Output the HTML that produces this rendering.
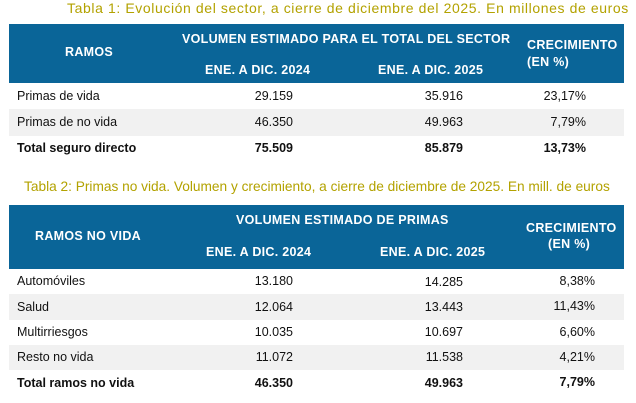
<!DOCTYPE html>
<html><head><meta charset="utf-8"><style>
body{margin:0;width:636px;height:403px;background:#fff;position:relative;overflow:hidden;font-family:"Liberation Sans",sans-serif;}
div{position:absolute;white-space:nowrap;}
.t{color:#b3a200;font-size:14px;}
.h{background:#0a6598;left:9px;width:615px;}
.g{background:#f1f1f1;left:9px;width:615px;}
.w{color:#fff;font-weight:bold;font-size:12.5px;letter-spacing:0.3px;}
.c{font-size:12.5px;color:#111;}
.b{font-weight:bold;}
.r{text-align:right;}
</style></head><body>
<div class="t" style="left:67px;top:0px;letter-spacing:0.6px;">Tabla 1: Evolución del sector, a cierre de diciembre del 2025. En millones de euros</div>
<div class="h" style="top:24px;height:59px;"></div>
<div class="w" style="left:65px;top:45px;">RAMOS</div>
<div class="w" style="left:182px;top:32px;">VOLUMEN ESTIMADO PARA EL TOTAL DEL SECTOR</div>
<div class="w" style="left:205px;top:63px;">ENE. A DIC. 2024</div>
<div class="w" style="left:378px;top:63px;">ENE. A DIC. 2025</div>
<div class="w" style="left:527px;top:38px;">CRECIMIENTO</div>
<div class="w" style="left:527px;top:55px;">(EN %)</div>
<div class="g" style="top:109px;height:27px;"></div>
<div class="c" style="left:17px;top:89px;">Primas de vida</div>
<div class="c r" style="left:200px;width:93px;top:89px;">29.159</div>
<div class="c r" style="left:370px;width:93px;top:89px;">35.916</div>
<div class="c r" style="left:490px;width:96px;top:89px;">23,17%</div>
<div class="c" style="left:17px;top:115px;">Primas de no vida</div>
<div class="c r" style="left:200px;width:93px;top:115px;">46.350</div>
<div class="c r" style="left:370px;width:93px;top:115px;">49.963</div>
<div class="c r" style="left:490px;width:96px;top:115px;">7,79%</div>
<div class="c b" style="left:17px;top:141px;">Total seguro directo</div>
<div class="c b r" style="left:200px;width:93px;top:141px;">75.509</div>
<div class="c b r" style="left:370px;width:93px;top:141px;">85.879</div>
<div class="c b r" style="left:490px;width:96px;top:141px;">13,73%</div>

<div class="t" style="left:24px;top:179px;font-size:13.7px;">Tabla 2: Primas no vida. Volumen y crecimiento, a cierre de diciembre de 2025. En mill. de euros</div>
<div class="h" style="top:205px;height:64px;"></div>
<div class="w" style="left:35px;top:229px;">RAMOS NO VIDA</div>
<div class="w" style="left:236px;top:213px;">VOLUMEN ESTIMADO DE PRIMAS</div>
<div class="w" style="left:206px;top:245px;">ENE. A DIC. 2024</div>
<div class="w" style="left:380px;top:245px;">ENE. A DIC. 2025</div>
<div class="w" style="left:526px;top:221px;">CRECIMIENTO</div>
<div class="w" style="left:548px;top:237px;">(EN %)</div>
<div class="g" style="top:294px;height:26px;"></div>
<div class="g" style="top:345px;height:25px;"></div>
<div class="c" style="left:17px;top:274px;">Automóviles</div>
<div class="c r" style="left:200px;width:93px;top:274px;">13.180</div>
<div class="c r" style="left:370px;width:93px;top:275px;">14.285</div>
<div class="c r" style="left:500px;width:95px;top:274px;">8,38%</div>
<div class="c" style="left:17px;top:300px;">Salud</div>
<div class="c r" style="left:200px;width:93px;top:300px;">12.064</div>
<div class="c r" style="left:370px;width:93px;top:300px;">13.443</div>
<div class="c r" style="left:500px;width:95px;top:299px;">11,43%</div>
<div class="c" style="left:17px;top:325px;">Multirriesgos</div>
<div class="c r" style="left:200px;width:93px;top:325px;">10.035</div>
<div class="c r" style="left:370px;width:93px;top:325px;">10.697</div>
<div class="c r" style="left:500px;width:95px;top:325px;">6,60%</div>
<div class="c" style="left:17px;top:350px;">Resto no vida</div>
<div class="c r" style="left:200px;width:93px;top:350px;">11.072</div>
<div class="c r" style="left:370px;width:93px;top:350px;">11.538</div>
<div class="c r" style="left:500px;width:95px;top:350px;">4,21%</div>
<div class="c b" style="left:17px;top:376px;">Total ramos no vida</div>
<div class="c b r" style="left:200px;width:93px;top:376px;">46.350</div>
<div class="c b r" style="left:370px;width:93px;top:376px;">49.963</div>
<div class="c b r" style="left:500px;width:95px;top:375px;">7,79%</div>
</body></html>
